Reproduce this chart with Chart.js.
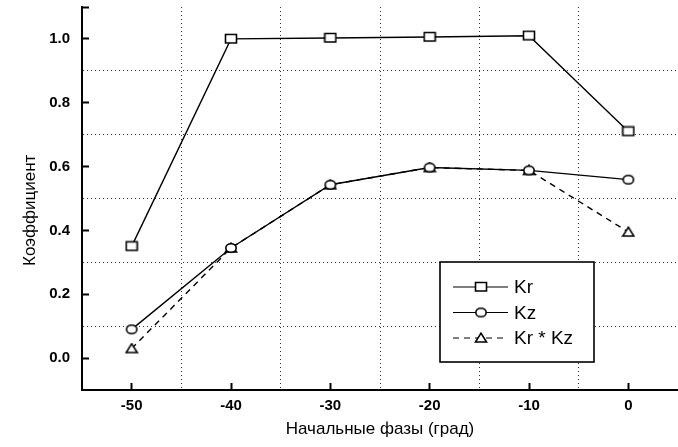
<!DOCTYPE html>
<html>
<head>
<meta charset="utf-8">
<script src="https://cdn.jsdelivr.net/npm/chart.js@4.4.1/dist/chart.umd.min.js"></script>
<style>
  html, body { margin: 0; padding: 0; background: #fff; }
  #wrap { width: 678px; height: 447px; }
</style>
</head>
<body>
<div id="wrap"><canvas id="chart" width="678" height="447"></canvas></div>
<script>
// Начальные фазы (град)
const phases = [-50, -40, -30, -20, -10, 0];
const kr   = [0.35, 1.0, 1.003, 1.006, 1.01, 0.71];
const kz   = [0.09, 0.345, 0.543, 0.597, 0.588, 0.559];
const krkz = [0.03, 0.345, 0.543, 0.597, 0.588, 0.395];
const seriesLabels = ['Kr', 'Kz', 'Kr * Kz'];

const FONT = "'Liberation Sans', Arial, sans-serif";

function marker(shape){
    const c = document.createElement('canvas');
    c.width = 14; c.height = 12;
    const g = c.getContext('2d');
    g.fillStyle = '#fff';
    g.strokeStyle = '#000';
    g.lineWidth = 1.6;
    g.beginPath();
    if (shape === 'square') g.rect(1.5, 1.5, 11, 8.5);
    else if (shape === 'circle') g.ellipse(7, 6, 5.2, 4.3, 0, 0, Math.PI*2);
    else { g.moveTo(7, 1.2); g.lineTo(12.5, 10); g.lineTo(1.5, 10); g.closePath(); }
    g.fill(); g.stroke();
    return c;
}

const toPoints = ys => ys.map((y,i)=>({x:phases[i], y:y}));

const legendPlugin = {
    id: 'boxLegend',
    afterDraw(chart){
        const ctx = chart.ctx;
        ctx.save();
        ctx.fillStyle = '#fff';
        ctx.strokeStyle = '#000';
        ctx.lineWidth = 1.6;
        ctx.fillRect(440, 262, 154, 100);
        ctx.strokeRect(440, 262, 154, 100);
        chart.data.datasets.forEach((ds, i)=>{
            const y = 287 + i*25.5;
            ctx.lineWidth = 1.2;
            ctx.setLineDash(ds.borderDash || []);
            ctx.beginPath(); ctx.moveTo(453, y); ctx.lineTo(508, y); ctx.stroke();
            ctx.setLineDash([]);
            const m = ds.pointStyle;
            ctx.drawImage(m, 481 - m.width/2, y - m.height/2);
            ctx.fillStyle = '#000';
            ctx.font = '19px ' + FONT;
            ctx.textBaseline = 'middle';
            ctx.fillText(ds.label, 514, y + 1);
        });
        ctx.restore();
    }
};

const tenth = v => Math.round(v*10);

new Chart(document.getElementById('chart'), {
    type: 'line',
    data: {
        datasets: [
            {label: seriesLabels[0], data: toPoints(kr), borderColor:'#000', borderWidth:1.4, pointStyle: marker('square'), pointRadius:6},
            {label: seriesLabels[1], data: toPoints(kz), borderColor:'#000', borderWidth:1.4, pointStyle: marker('circle'), pointRadius:6},
            {label: seriesLabels[2], data: toPoints(krkz), borderColor:'#000', borderWidth:1.4, borderDash:[6,5], pointStyle: marker('triangle'), pointRadius:6}
        ]
    },
    options: {
        responsive: false,
        animation: false,
        layout: {autoPadding: false, padding: {top: 7, right: 0, bottom: 0, left: 0}},
        plugins: {legend: {display: false}, tooltip: {enabled: false}},
        scales: {
            x: {
                type: 'linear', min: -55, max: 5,
                afterFit: s => { s.height = 57; s.paddingLeft = 0; s.paddingRight = 0; },
                border: {display: true, color: '#000', width: 2, dash: [1, 3]},
                grid: {
                    color: c => (c.tick && c.tick.value % 10 !== 0 && c.tick.value > -55 && c.tick.value < 5) ? '#333' : 'rgba(0,0,0,0)',
                    lineWidth: 1,
                    tickLength: -7,
                    tickWidth: 2,
                    tickColor: c => (c.tick && c.tick.value % 10 === 0) ? '#000' : 'rgba(0,0,0,0)'
                },
                ticks: {
                    stepSize: 5, autoSkip: false, maxRotation: 0, padding: 14, color: '#000',
                    font: {family: FONT, size: 15, weight: 'bold'},
                    callback: v => (v % 10 === 0 && v > -55 && v < 5) ? String(v) : ''
                },
                title: {display: true, text: 'Начальные фазы (град)', color: '#000', font: {family: FONT, size: 17}, padding: {top: 0, bottom: 7}}
            },
            y: {
                min: -0.1, max: 1.1,
                afterFit: s => { s.width = 82; s.paddingTop = 0; s.paddingBottom = 0; },
                border: {display: true, color: '#000', width: 2, dash: [1, 3]},
                grid: {
                    color: c => { if (!c.tick) return 'rgba(0,0,0,0)'; const k = tenth(c.tick.value); return (k % 2 !== 0 && k > -1 && k < 11) ? '#333' : 'rgba(0,0,0,0)'; },
                    lineWidth: 1,
                    tickLength: -7,
                    tickWidth: 2,
                    tickColor: c => { if (!c.tick) return 'rgba(0,0,0,0)'; const k = tenth(c.tick.value); return (k % 2 === 0 && k >= 0) || k === 11 ? '#000' : 'rgba(0,0,0,0)'; }
                },
                ticks: {
                    stepSize: 0.1, autoSkip: false, padding: 19, color: '#000',
                    font: {family: FONT, size: 15, weight: 'bold'},
                    callback: v => { const k = tenth(v); return (k % 2 === 0 && k >= 0 && k <= 10) ? (k/10).toFixed(1) : ''; }
                },
                title: {display: true, text: 'Коэффициент     ', color: '#000', font: {family: FONT, size: 17}, padding: {top: 20, bottom: 0}}
            }
        }
    },
    plugins: [legendPlugin]
});
</script>
</body>
</html>
